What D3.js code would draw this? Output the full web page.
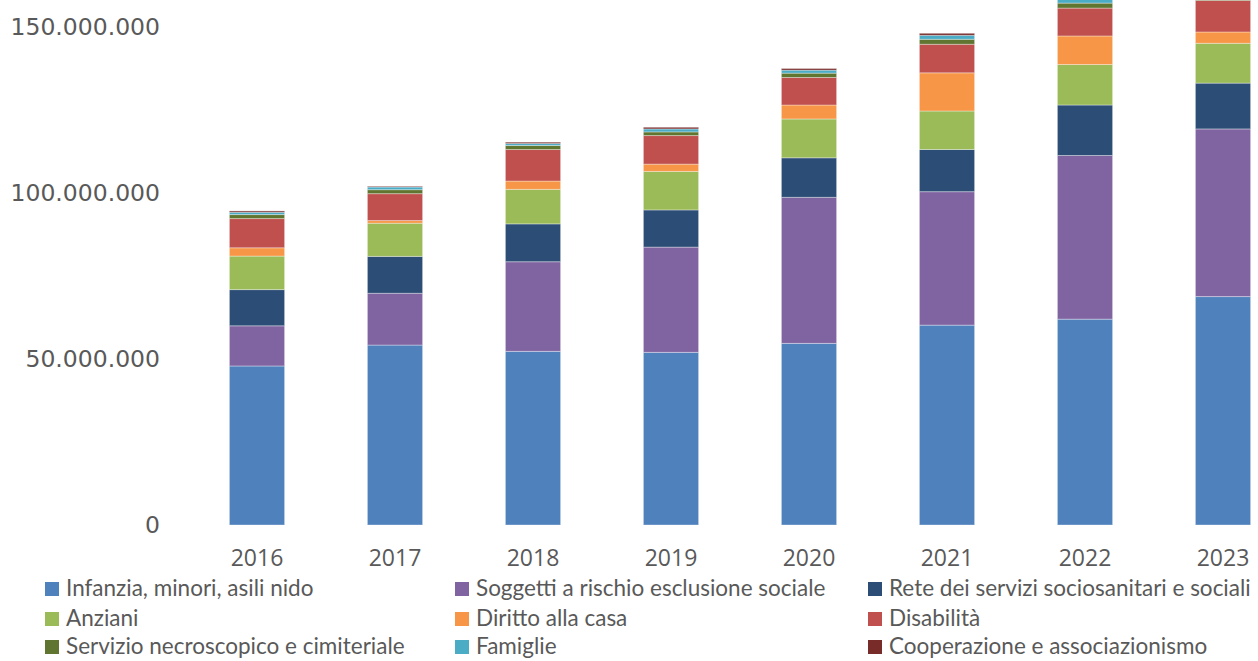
<!DOCTYPE html>
<html><head><meta charset="utf-8">
<script src="https://cdn.jsdelivr.net/npm/d3@7"></script>
<style>
html,body{margin:0;padding:0;background:#fff;overflow:hidden;}
svg{display:block;}
</style></head>
<body>
<svg id="chart" width="1258" height="661"></svg>
<script>
const years = ["2016","2017","2018","2019","2020","2021","2022","2023"];
const seriesNames = [
  "Infanzia, minori, asili nido",
  "Soggetti a rischio esclusione sociale",
  "Rete dei servizi sociosanitari e sociali",
  "Anziani",
  "Diritto alla casa",
  "Disabilità",
  "Servizio necroscopico e cimiteriale",
  "Famiglie",
  "Cooperazione e associazionismo"
];
const colors = ["#4F81BD","#8064A2","#2C4D75","#9BBB59","#F79646","#C0504D","#5F7530","#4BACC6","#772C2A"];
// values in millions of euro
const infanzia     = [47.9, 54.2, 52.3, 52.0, 54.7, 60.2, 62.0, 68.8];
const soggetti     = [12.1, 15.6, 27.0, 31.7, 44.0, 40.2, 49.3, 50.5];
const rete         = [10.9, 11.1, 11.4, 11.2, 11.9, 12.7, 15.2, 13.8];
const anziani      = [10.1, 10.0, 10.4, 11.6, 11.7, 11.6, 12.2, 12.0];
const casa         = [2.5, 0.8, 2.5, 2.2, 4.2, 11.5, 8.6, 3.4];
const disabilita   = [8.8, 8.1, 9.5, 8.6, 8.3, 8.6, 8.4, 9.5];
const necroscopico = [1.2, 1.2, 1.2, 1.1, 1.3, 1.5, 1.5, 1.5];
const famiglie     = [0.7, 0.8, 0.6, 0.9, 0.9, 1.2, 1.3, 1.2];
const cooperazione = [0.4, 0.2, 0.4, 0.5, 0.5, 0.6, 0.6, 0.6];
const yTicks = [0, 50000000, 100000000, 150000000];

const seriesValues = [infanzia, soggetti, rete, anziani, casa, disabilita, necroscopico, famiglie, cooperazione];
const keys = seriesNames;
const table = years.map((y, i) => {
  const row = {year: y};
  keys.forEach((k, j) => row[k] = seriesValues[j][i] * 1e6);
  return row;
});

const svg = d3.select("#chart");
const x = d3.scaleBand().domain(years).range([188, 1292]).paddingInner(0.6).paddingOuter(0.3);
const y = d3.scaleLinear().domain([0, 150000000]).range([525, 27]);
const color = d3.scaleOrdinal().domain(keys).range(colors);

const stack = d3.stack().keys(keys)(table);
svg.append("g").selectAll("g").data(stack).join("g")
  .attr("fill", d => color(d.key))
  .selectAll("rect").data(d => d).join("rect")
  .attr("x", d => x(d.data.year))
  .attr("width", x.bandwidth())
  .attr("y", d => y(d[1]))
  .attr("height", d => y(d[0]) - y(d[1]))
  .attr("stroke", "#ffffff").attr("stroke-opacity", 0.35).attr("stroke-width", 1);

const fmt = v => d3.format(",")(v).replace(/,/g, ".");
const textColor = "#595959";

svg.append("g").selectAll("text").data(yTicks).join("text")
  .attr("x", 160).attr("y", d => y(d))
  .attr("dy", "0.36em").attr("text-anchor", "end")
  .attr("font-family", "'DejaVu Sans', sans-serif").attr("font-size", 23.5)
  .attr("fill", textColor).text(d => fmt(d));

svg.append("g").selectAll("text").data(years).join("text")
  .attr("x", d => x(d) + x.bandwidth()/2).attr("y", 558)
  .attr("dy", "0.36em").attr("text-anchor", "middle")
  .attr("font-family", "'Open Sans', sans-serif").attr("font-size", 23)
  .attr("fill", textColor).text(d => d);

const colX = [45, 455, 868];
const rowY = [589, 619, 647];
const leg = svg.append("g").selectAll("g").data(keys).join("g")
  .attr("transform", (d, i) => `translate(${colX[i % 3]},${rowY[Math.floor(i / 3)]})`);
leg.append("rect").attr("x", 0).attr("y", -7).attr("width", 14).attr("height", 14)
  .attr("fill", d => color(d));
leg.append("text").attr("x", 21).attr("y", 0).attr("dy", "0.33em")
  .attr("font-family", "Lato, sans-serif").attr("font-size", 22.5)
  .attr("fill", textColor).text(d => d);
</script>
</body></html>
